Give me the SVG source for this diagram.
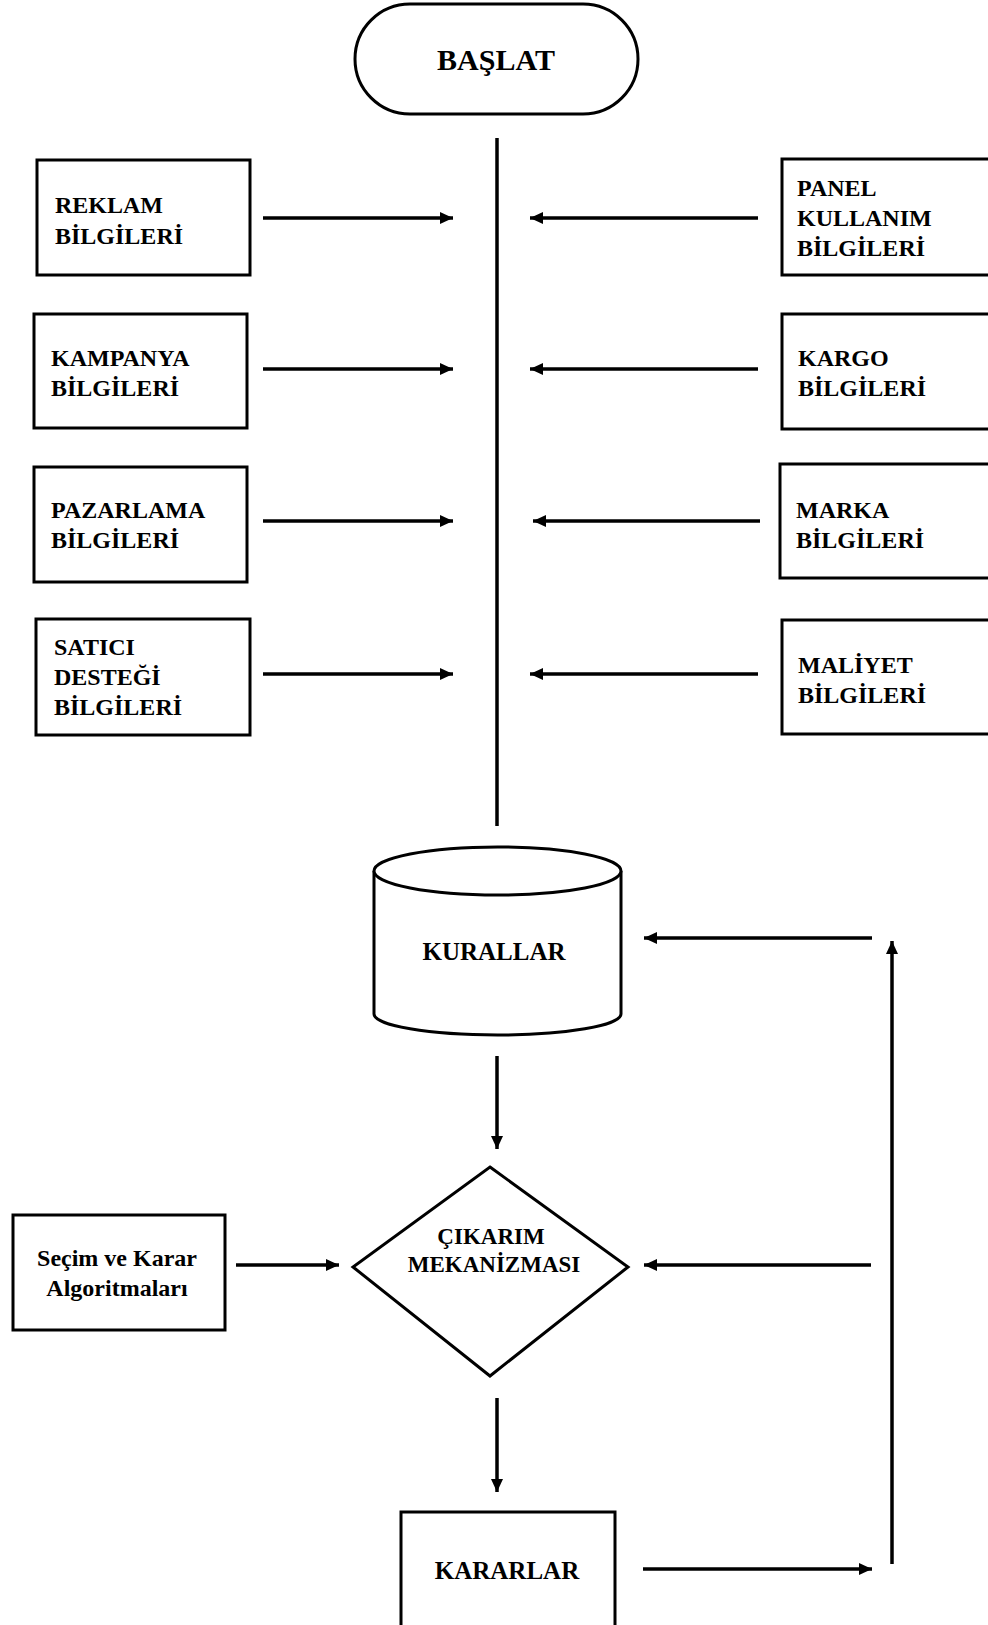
<svg xmlns="http://www.w3.org/2000/svg" width="988" height="1625" viewBox="0 0 988 1625">
<defs>
<marker id="ah" markerUnits="userSpaceOnUse" markerWidth="13" markerHeight="12" refX="13" refY="6" orient="auto">
<path d="M0,0 L13,6 L0,12 z" fill="#000"/>
</marker>
<style>
.b{fill:#fff;stroke:#000;stroke-width:3}
.t{font-family:"Liberation Serif","Times New Roman",serif;font-weight:bold;font-size:24px;fill:#000}
.c{text-anchor:middle}
.ln{stroke:#000;stroke-width:3.5;fill:none}
.ar{stroke:#000;stroke-width:3.5;fill:none;marker-end:url(#ah)}
</style>
</defs>
<rect width="988" height="1625" fill="#fff"/>

<g id="baslat">
<rect class="b" x="355" y="4" width="283" height="110" rx="55" ry="55"/>
<text class="t c" x="496" y="70" style="font-size:30px">BAŞLAT</text>
</g>

<g id="reklam">
<rect class="b" x="37" y="160" width="213" height="115"/>
<text class="t" x="55" y="213">REKLAM</text>
<text class="t" x="55" y="244">BİLGİLERİ</text>
</g>
<g id="kampanya">
<rect class="b" x="34" y="314" width="213" height="114"/>
<text class="t" x="51" y="366">KAMPANYA</text>
<text class="t" x="51" y="396">BİLGİLERİ</text>
</g>
<g id="pazarlama">
<rect class="b" x="34" y="467" width="213" height="115"/>
<text class="t" x="51" y="518">PAZARLAMA</text>
<text class="t" x="51" y="548">BİLGİLERİ</text>
</g>
<g id="satici">
<rect class="b" x="36" y="619" width="214" height="116"/>
<text class="t" x="54" y="655">SATICI</text>
<text class="t" x="54" y="685">DESTEĞİ</text>
<text class="t" x="54" y="715">BİLGİLERİ</text>
</g>

<g id="panel">
<rect class="b" x="782" y="159" width="230" height="116"/>
<text class="t" x="797" y="196">PANEL</text>
<text class="t" x="797" y="226">KULLANIM</text>
<text class="t" x="797" y="256">BİLGİLERİ</text>
</g>
<g id="kargo">
<rect class="b" x="782" y="314" width="230" height="115"/>
<text class="t" x="798" y="366">KARGO</text>
<text class="t" x="798" y="396">BİLGİLERİ</text>
</g>
<g id="marka">
<rect class="b" x="780" y="464" width="230" height="114"/>
<text class="t" x="796" y="518">MARKA</text>
<text class="t" x="796" y="548">BİLGİLERİ</text>
</g>
<g id="maliyet">
<rect class="b" x="782" y="620" width="230" height="114"/>
<text class="t" x="798" y="673">MALİYET</text>
<text class="t" x="798" y="703">BİLGİLERİ</text>
</g>

<g id="kurallar">
<path class="b" d="M374,871 L374,1014 A123.5,21 0 0 0 621,1014 L621,871"/>
<ellipse class="b" cx="497.5" cy="871" rx="123.5" ry="24"/>
<text class="t c" x="494" y="960" style="font-size:25px">KURALLAR</text>
</g>

<g id="cikarim">
<polygon class="b" points="490,1167 628,1267 490,1376 353,1267"/>
<text class="t c" x="491" y="1244" style="font-size:23px">ÇIKARIM</text>
<text class="t c" x="494" y="1272" style="font-size:23px">MEKANİZMASI</text>
</g>

<g id="secim">
<rect class="b" x="13" y="1215" width="212" height="115"/>
<text class="t c" x="117" y="1266" style="font-size:24px">Seçim ve Karar</text>
<text class="t c" x="117" y="1296" style="font-size:24px">Algoritmaları</text>
</g>

<g id="kararlar">
<rect class="b" x="401" y="1512" width="214" height="125"/>
<text class="t c" x="507" y="1579" style="font-size:25px">KARARLAR</text>
</g>

<g id="connectors">
<line class="ln" x1="497" y1="138" x2="497" y2="826"/>
<line class="ar" x1="263" y1="218" x2="453" y2="218"/>
<line class="ar" x1="263" y1="369" x2="453" y2="369"/>
<line class="ar" x1="263" y1="521" x2="453" y2="521"/>
<line class="ar" x1="263" y1="674" x2="453" y2="674"/>
<line class="ar" x1="758" y1="218" x2="530" y2="218"/>
<line class="ar" x1="758" y1="369" x2="530" y2="369"/>
<line class="ar" x1="760" y1="521" x2="533" y2="521"/>
<line class="ar" x1="758" y1="674" x2="530" y2="674"/>
<line class="ar" x1="497" y1="1056" x2="497" y2="1149"/>
<line class="ar" x1="236" y1="1265" x2="339" y2="1265"/>
<line class="ar" x1="871" y1="1265" x2="644" y2="1265"/>
<line class="ar" x1="497" y1="1398" x2="497" y2="1492"/>
<line class="ar" x1="643" y1="1569" x2="872" y2="1569"/>
<line class="ar" x1="892" y1="1564" x2="892" y2="941"/>
<line class="ar" x1="872" y1="938" x2="644" y2="938"/>
</g>
</svg>
